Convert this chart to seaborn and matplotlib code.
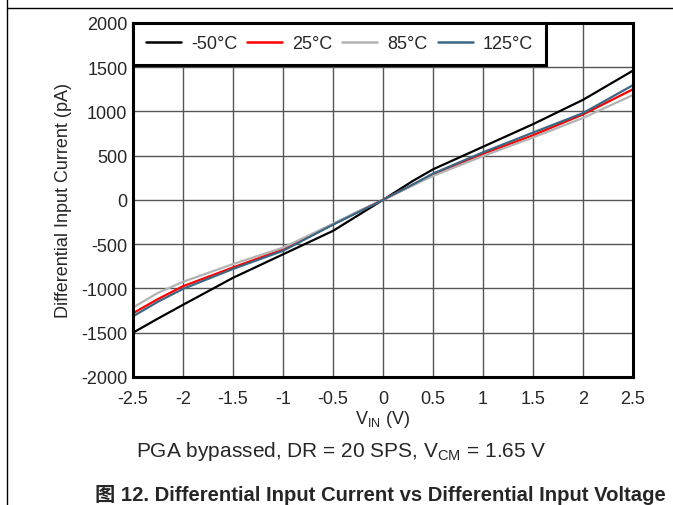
import pandas as pd
import matplotlib.pyplot as plt
import seaborn as sns
from matplotlib.lines import Line2D

# values (V_IN in V, current in pA)
v_in = [-2.5, -2.25, -2.0, -1.5, -1.0, -0.5, -0.25, 0.0, 0.3, 0.5, 1.0, 1.5, 2.0, 2.5]
i_m50 = [-1500, -1340, -1185, -880, -615, -350, -175, 0, 215, 345, 600, 855, 1130, 1460]
i_25 = [-1280, -1120, -975, -763, -560, -275, -135, 0, 170, 290, 520, 730, 965, 1250]
i_85 = [-1215, -1050, -925, -725, -540, -270, -130, 0, 165, 270, 495, 705, 925, 1185]
i_125 = [-1315, -1150, -1005, -780, -575, -280, -140, 0, 175, 297, 537, 760, 980, 1296]
temps = ["-50°C", "25°C", "85°C", "125°C"]
colors = ["#000000", "#ff0000", "#b3b3b3", "#3b6784"]
x_ticks = [-2.5, -2, -1.5, -1, -0.5, 0, 0.5, 1, 1.5, 2, 2.5]
x_labels = ["-2.5", "-2", "-1.5", "-1", "-0.5", "0", "0.5", "1", "1.5", "2", "2.5"]

df = pd.concat([
    pd.DataFrame({"V": v_in, "I": vals, "T": t})
    for t, vals in zip(temps, [i_m50, i_25, i_85, i_125])
])

sns.set_style("white")
plt.rcParams["font.family"] = ["Liberation Sans", "Noto Sans CJK SC", "DejaVu Sans"]
plt.rcParams["axes.unicode_minus"] = False

fig = plt.figure(figsize=(6.73, 5.06), dpi=100)
ax = fig.add_axes([0.1976, 0.253, 0.743, 0.7])

sns.lineplot(data=df, x="V", y="I", hue="T", hue_order=temps,
             palette=colors, linewidth=1.6, ax=ax, legend=False, sort=False)

ax.set_xlim(-2.5, 2.5)
ax.set_ylim(-2000, 2000)
ax.set_xticks(x_ticks)
ax.set_xticklabels(x_labels)
ax.set_yticks(range(-2000, 2001, 500))
ax.grid(True, color="#555555", linewidth=1.0)
ax.tick_params(axis="both", length=0, labelsize=13)
ax.tick_params(axis="x", pad=9.5)
ax.tick_params(axis="y", pad=4)
for s in ax.spines.values():
    s.set_color("black")
    s.set_linewidth(2.2)
ax.set_xlabel("V$_{\\mathregular{IN}}$ (V)", fontsize=13, va="center")
ax.set_ylabel("Differential Input Current (pA)", fontsize=13, va="center")
ax.xaxis.set_label_coords(0.5, -0.118)
ax.yaxis.set_label_coords(-0.138, 0.5)

handles = [Line2D([], [], color=c, linewidth=1.8) for c in colors]
leg = ax.legend(handles, temps, loc="upper left", ncol=4, fontsize=13,
                borderaxespad=0, fancybox=False, framealpha=1,
                handlelength=1.95, columnspacing=0.55, handletextpad=0.55,
                borderpad=0.7)
leg.get_frame().set_edgecolor("black")
leg.get_frame().set_linewidth(2.2)

fig.text(0.507, 0.108, "PGA bypassed, DR = 20 SPS, V$_{\\mathregular{CM}}$ = 1.65 V",
         ha="center", va="center", fontsize=15)
fig.text(0.141, 0.022, "图 12. Differential Input Current vs Differential Input Voltage",
         ha="left", va="center", fontsize=14.6, fontweight="bold")

# page frame lines
fig.add_artist(Line2D([0.0104, 0.0104], [0, 1.0], color="black", linewidth=1.0))
fig.add_artist(Line2D([0.0104, 1.0], [0.982, 0.982], color="black", linewidth=1.0))

fig.savefig("out.png", dpi=100)
